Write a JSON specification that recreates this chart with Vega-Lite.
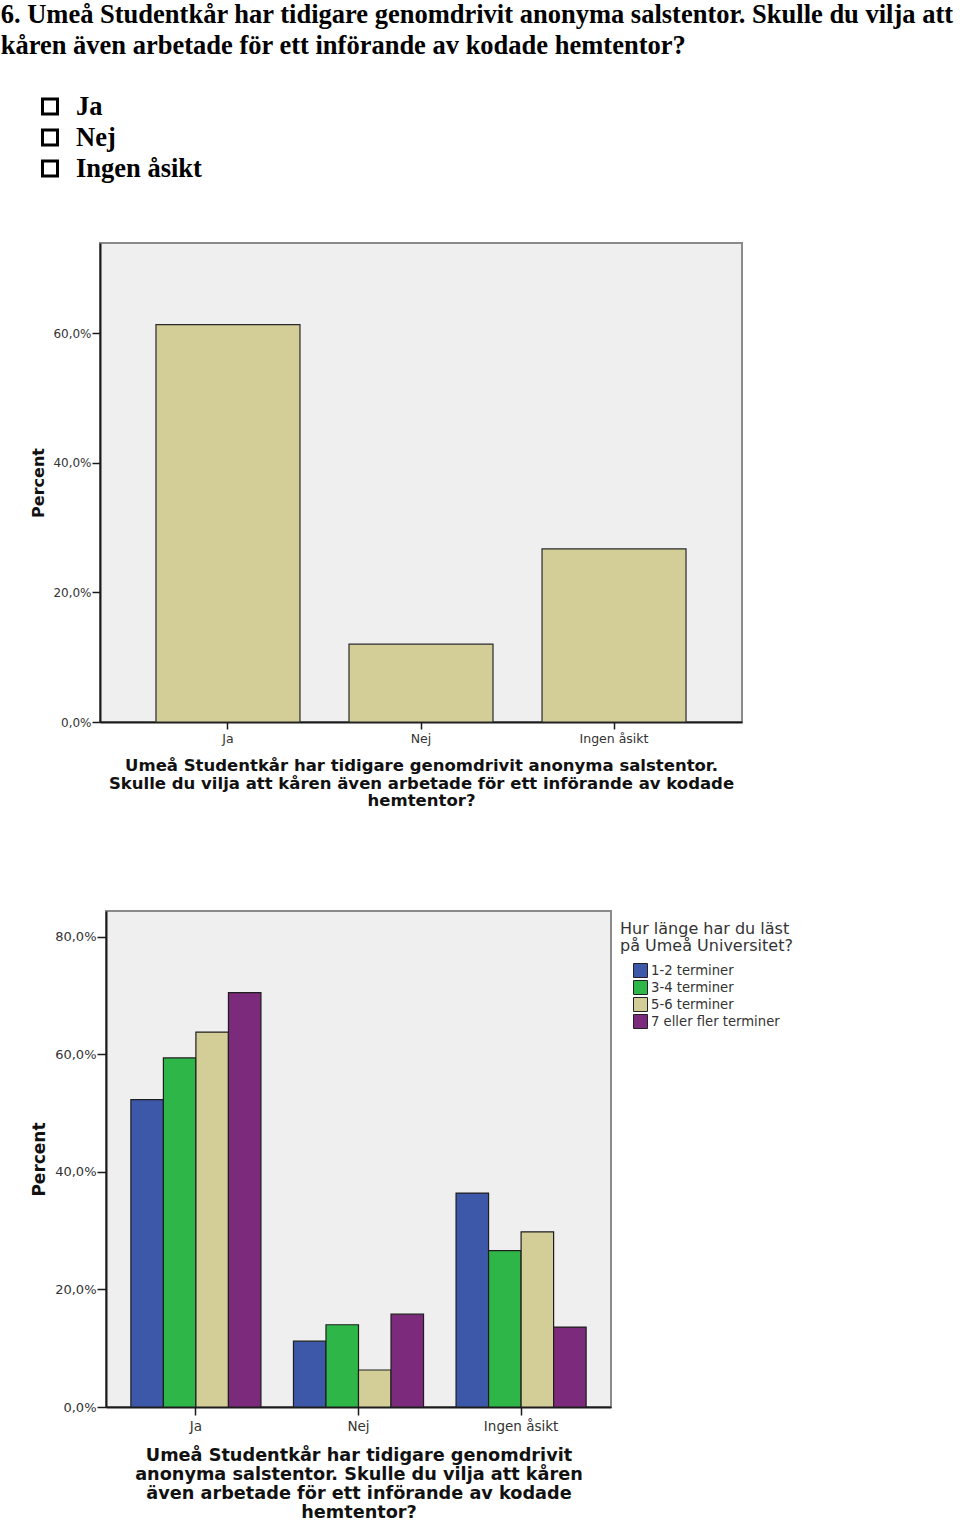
{
  "$schema": "https://vega.github.io/schema/vega-lite/v6.json",
  "background": "white",
  "padding": {"left": 0, "top": 1, "right": 0, "bottom": 0},
  "title": {
    "text": ["6. Umeå Studentkår har tidigare genomdrivit anonyma salstentor. Skulle du vilja att", "kåren även arbetade för ett införande av kodade hemtentor?"],
    "anchor": "start",
    "dx": -29,
    "font": "Liberation Serif",
    "fontSize": 26.5,
    "fontWeight": "bold",
    "lineHeight": 31,
    "color": "#000000",
    "offset": 32
  },
  "config": {
    "font": "DejaVu Sans",
    "axis": {
      "domainColor": "#1a1a1a",
      "domainWidth": 2,
      "tickColor": "#1a1a1a",
      "tickWidth": 1.5,
      "grid": false,
      "labelColor": "#333333",
      "titleColor": "#111111",
      "titleFontWeight": "bold",
      "labelFont": "DejaVu Sans",
      "titleFont": "DejaVu Sans"
    }
  },
  "resolve": {"scale": {"color": "independent"}, "legend": {"color": "independent"}},
  "spacing": 58,
  "vconcat": [
    {
      "width": 34,
      "height": 93,
      "view": {"stroke": null, "fill": null},
      "data": {"values": [{"svar": "Ja"}, {"svar": "Nej"}, {"svar": "Ingen åsikt"}]},
      "encoding": {
        "y": {"field": "svar", "type": "nominal", "sort": ["Ja", "Nej", "Ingen åsikt"], "scale": {"type": "point", "padding": 0.5}, "axis": null}
      },
      "layer": [
        {"mark": {"type": "point", "shape": "square", "filled": false, "stroke": "#000000", "strokeWidth": 3, "size": 225, "opacity": 1}},
        {"mark": {"type": "text", "align": "left", "baseline": "middle", "dx": 26, "font": "Liberation Serif", "fontSize": 26.5, "fontWeight": "bold", "color": "#000000"}, "encoding": {"text": {"field": "svar"}}}
      ]
    },
    {
      "spacing": 100,
      "resolve": {"scale": {"color": "independent"}, "legend": {"color": "independent"}},
      "vconcat": [
        {
          "spacing": -5,
          "hconcat": [
            {
              "width": 1,
              "height": 1,
              "view": {"stroke": null, "fill": null},
              "data": {"values": [{"svar": "spacer"}]},
              "mark": {"type": "point", "size": 1, "opacity": 0}
            },
            {
              "width": 642,
              "height": 479,
              "view": {"fill": "#EFEFEF", "stroke": "#8A8A8A", "strokeWidth": 2},
              "data": {"values": [
                {"svar": "Ja", "procent": 61.3},
                {"svar": "Nej", "procent": 12.0},
                {"svar": "Ingen åsikt", "procent": 26.7}
              ]},
              "mark": {"type": "bar", "fill": "#D3CE98", "stroke": "#2a2a2a", "strokeWidth": 1.2},
              "encoding": {
                "x": {
                  "field": "svar", "type": "nominal", "sort": ["Ja", "Nej", "Ingen åsikt"],
                  "scale": {"paddingInner": 0.254, "paddingOuter": 0.29},
                  "axis": {
                    "title": ["Umeå Studentkår har tidigare genomdrivit anonyma salstentor.", "Skulle du vilja att kåren även arbetade för ett införande av kodade", "hemtentor?"],
                    "labelAngle": 0, "labelFontSize": 12.5, "labelPadding": 3, "tickSize": 7,
                    "titleFontSize": 16.5, "titleLineHeight": 17.5, "titlePadding": 13
                  }
                },
                "y": {
                  "field": "procent", "type": "quantitative",
                  "scale": {"domain": [0, 73.9], "nice": false},
                  "axis": {
                    "values": [0, 20, 40, 60],
                    "labelExpr": "replace(format(datum.value, '.1f'), '.', ',') + '%'",
                    "title": "Percent", "titleFontSize": 16, "titlePadding": 6,
                    "labelFontSize": 12, "labelPadding": 1, "tickSize": 8
                  }
                }
              }
            }
          ]
        },
        {
          "spacing": -5,
          "resolve": {"scale": {"color": "independent"}, "legend": {"color": "independent"}},
          "hconcat": [
            {
              "width": 1,
              "height": 1,
              "view": {"stroke": null, "fill": null},
              "data": {"values": [{"svar": "spacer"}]},
              "mark": {"type": "point", "size": 1, "opacity": 0}
            },
            {
              "width": 505,
              "height": 496,
              "view": {"fill": "#EFEFEF", "stroke": "#8A8A8A", "strokeWidth": 2},
              "data": {"values": [
                {"svar": "Ja", "tid": "1-2 terminer", "procent": 52.3},
                {"svar": "Ja", "tid": "3-4 terminer", "procent": 59.4},
                {"svar": "Ja", "tid": "5-6 terminer", "procent": 63.8},
                {"svar": "Ja", "tid": "7 eller fler terminer", "procent": 70.5},
                {"svar": "Nej", "tid": "1-2 terminer", "procent": 11.2},
                {"svar": "Nej", "tid": "3-4 terminer", "procent": 14.0},
                {"svar": "Nej", "tid": "5-6 terminer", "procent": 6.3},
                {"svar": "Nej", "tid": "7 eller fler terminer", "procent": 15.8},
                {"svar": "Ingen åsikt", "tid": "1-2 terminer", "procent": 36.4},
                {"svar": "Ingen åsikt", "tid": "3-4 terminer", "procent": 26.6},
                {"svar": "Ingen åsikt", "tid": "5-6 terminer", "procent": 29.8},
                {"svar": "Ingen åsikt", "tid": "7 eller fler terminer", "procent": 13.6}
              ]},
              "mark": {"type": "bar", "stroke": "#1e1e1e", "strokeWidth": 1.2},
              "encoding": {
                "x": {
                  "field": "svar", "type": "nominal", "sort": ["Ja", "Nej", "Ingen åsikt"],
                  "scale": {"paddingInner": 0.2, "paddingOuter": 0.153},
                  "axis": {
                    "title": ["Umeå Studentkår har tidigare genomdrivit", "anonyma salstentor. Skulle du vilja att kåren", "även arbetade för ett införande av kodade", "hemtentor?"],
                    "labelAngle": 0, "labelFontSize": 13.5, "labelPadding": 4, "tickSize": 8,
                    "titleFontSize": 17.7, "titleLineHeight": 19, "titlePadding": 14
                  }
                },
                "xOffset": {"field": "tid", "type": "nominal", "sort": ["1-2 terminer", "3-4 terminer", "5-6 terminer", "7 eller fler terminer"], "scale": {"paddingInner": 0, "paddingOuter": 0}},
                "y": {
                  "field": "procent", "type": "quantitative",
                  "scale": {"domain": [0, 84.4], "nice": false},
                  "axis": {
                    "values": [0, 20, 40, 60, 80],
                    "labelExpr": "replace(format(datum.value, '.1f'), '.', ',') + '%'",
                    "title": "Percent", "titleFontSize": 17, "titlePadding": 6,
                    "labelFontSize": 13, "labelPadding": 1, "tickSize": 9
                  }
                },
                "color": {
                  "field": "tid", "type": "nominal",
                  "sort": ["1-2 terminer", "3-4 terminer", "5-6 terminer", "7 eller fler terminer"],
                  "scale": {"domain": ["1-2 terminer", "3-4 terminer", "5-6 terminer", "7 eller fler terminer"], "range": ["#3D58A8", "#2EB748", "#D3CE98", "#7C2A7B"]},
                  "legend": {
                    "orient": "right",
                    "offset": -1,
                    "padding": 10,
                    "title": ["Hur länge har du läst", "på Umeå Universitet?"],
                    "titleFont": "DejaVu Sans",
                    "titleFontSize": 16,
                    "titleFontWeight": "normal",
                    "titleColor": "#333333",
                    "titleLineHeight": 17,
                    "titlePadding": 9,
                    "labelFont": "DejaVu Sans",
                    "labelFontSize": 13.2,
                    "labelColor": "#333333",
                    "labelOffset": 3,
                    "symbolType": "square",
                    "symbolSize": 196,
                    "symbolStrokeColor": "#222222",
                    "symbolStrokeWidth": 1,
                    "symbolOpacity": 1,
                    "symbolOffset": 13,
                    "rowPadding": -2.5
                  }
                }
              }
            }
          ]
        }
      ]
    }
  ]
}
